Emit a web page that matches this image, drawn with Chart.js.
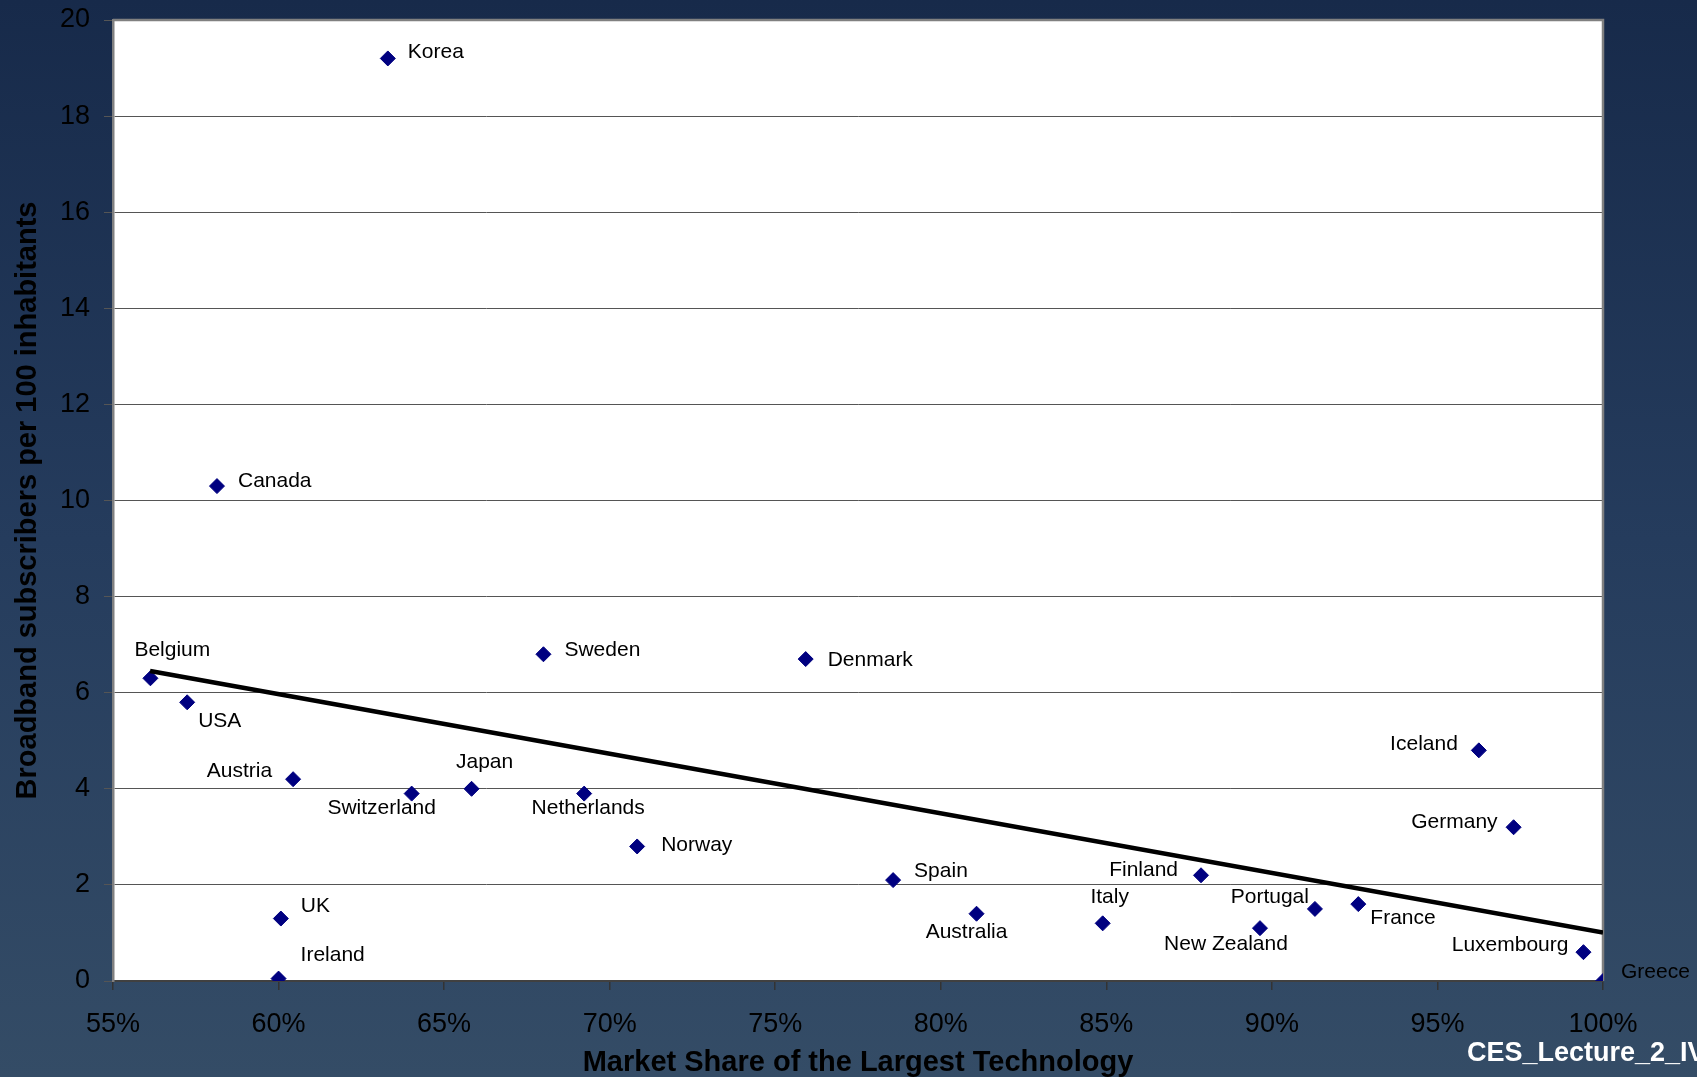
<!DOCTYPE html>
<html>
<head>
<meta charset="utf-8">
<title>Broadband subscribers vs. market share of the largest technology</title>
<script src="https://cdn.jsdelivr.net/npm/chart.js@4.4.1/dist/chart.umd.min.js"></script>
<style>
  html, body {
    margin: 0;
    padding: 0;
    width: 1697px;
    height: 1077px;
    overflow: hidden;
    background: linear-gradient(to bottom, #172a4a 0%, #253c5d 50%, #344c66 100%);
  }
  canvas { display: block; }
</style>
</head>
<body>
<canvas id="chart" width="1697" height="1077"></canvas>
<script>
// Countries and their values
const countries = [
  'Korea', 'Canada', 'Belgium', 'USA', 'Austria', 'Switzerland', 'Japan',
  'Netherlands', 'Sweden', 'Norway', 'Denmark', 'UK', 'Ireland', 'Spain',
  'Australia', 'Italy', 'Finland', 'New Zealand', 'Portugal', 'France',
  'Iceland', 'Germany', 'Luxembourg', 'Greece'
];
// Market share of the largest technology (%)
const marketShare = [
  63.3, 58.14, 56.13, 57.24, 60.44, 64.02, 65.83,
  69.23, 68.0, 70.83, 75.92, 60.07, 60.0, 78.56,
  81.08, 84.89, 87.86, 89.64, 91.3, 92.61,
  96.25, 97.3, 99.41, 100
];
// Broadband subscribers per 100 inhabitants
const subscribers = [
  19.2, 10.3, 6.3, 5.8, 4.2, 3.9, 4.0,
  3.9, 6.8, 2.8, 6.7, 1.3, 0.05, 2.1,
  1.4, 1.2, 2.2, 1.1, 1.5, 1.6,
  4.8, 3.2, 0.6, 0
];
// Linear trend line end points
const trendShare = [56.12, 100];
const trendSubscribers = [6.45, 1.01];

// Axis ranges and tick steps
const xRange = [55, 100];
const xStep = 5;
const yRange = [0, 20];
const yStep = 2;

const xTitle = 'Market Share of the Largest Technology';
const yTitle = 'Broadband subscribers per 100 inhabitants';
const footerText = 'CES_Lecture_2_IV';

// Where each country label sits relative to its marker (pixels)
const labelPlacement = {
  'Korea':       { align: 'left',   dx: 20,  dy: -6 },
  'Canada':      { align: 'left',   dx: 21,  dy: -5 },
  'Belgium':     { align: 'left',   dx: -16, dy: -28 },
  'USA':         { align: 'left',   dx: 11,  dy: 19 },
  'Austria':     { align: 'right',  dx: -21, dy: -8 },
  'Switzerland': { align: 'center', dx: -30, dy: 15 },
  'Japan':       { align: 'center', dx: 13,  dy: -27 },
  'Netherlands': { align: 'center', dx: 4,   dy: 15 },
  'Sweden':      { align: 'left',   dx: 21,  dy: -4 },
  'Norway':      { align: 'left',   dx: 24,  dy: -1 },
  'Denmark':     { align: 'left',   dx: 22,  dy: 1 },
  'UK':          { align: 'left',   dx: 20,  dy: -12 },
  'Ireland':     { align: 'left',   dx: 22,  dy: -23 },
  'Spain':       { align: 'left',   dx: 21,  dy: -9 },
  'Australia':   { align: 'center', dx: -10, dy: 18 },
  'Italy':       { align: 'center', dx: 7,   dy: -26 },
  'Finland':     { align: 'right',  dx: -23, dy: -5 },
  'New Zealand': { align: 'center', dx: -34, dy: 16 },
  'Portugal':    { align: 'right',  dx: -6,  dy: -12 },
  'France':      { align: 'left',   dx: 12,  dy: 14 },
  'Iceland':     { align: 'right',  dx: -21, dy: -6 },
  'Germany':     { align: 'right',  dx: -16, dy: -5 },
  'Luxembourg':  { align: 'right',  dx: -15, dy: -7 },
  'Greece':      { align: 'left',   dx: 18,  dy: -9 }
};

const FONT = '"Liberation Sans", Arial, Helvetica, sans-serif';
Chart.defaults.font.family = FONT;
Chart.defaults.color = '#000000';

const points = countries.map((c, i) => ({ x: marketShare[i], y: subscribers[i] }));
const trend = trendShare.map((x, i) => ({ x: x, y: trendSubscribers[i] }));

// White plot area with grey frame
const plotArea = {
  id: 'plotArea',
  beforeDraw(chart) {
    const { ctx, chartArea: a } = chart;
    ctx.save();
    ctx.fillStyle = '#ffffff';
    ctx.fillRect(a.left, a.top, a.right - a.left, a.bottom - a.top);
    ctx.restore();
  },
  beforeDatasetsDraw(chart) {
    const { ctx, chartArea: a } = chart;
    ctx.save();
    ctx.strokeStyle = '#808080';
    ctx.lineWidth = 2.5;
    ctx.beginPath();
    ctx.moveTo(a.left, a.top);
    ctx.lineTo(a.right, a.top);
    ctx.lineTo(a.right, a.bottom);
    ctx.stroke();
    ctx.restore();
  }
};

// Country names next to the markers, plus the footer caption
const pointLabels = {
  id: 'pointLabels',
  afterDraw(chart) {
    const { ctx } = chart;
    const meta = chart.getDatasetMeta(1);
    ctx.save();
    ctx.font = '21px ' + FONT;
    ctx.fillStyle = '#000000';
    ctx.textBaseline = 'middle';
    meta.data.forEach((el, i) => {
      const name = countries[i];
      const p = labelPlacement[name];
      ctx.textAlign = p.align;
      ctx.fillText(name, el.x + p.dx, el.y + p.dy);
    });
    ctx.font = 'bold 27px ' + FONT;
    ctx.fillStyle = '#ffffff';
    ctx.textAlign = 'left';
    ctx.fillText(footerText, 1467, 1054);
    ctx.restore();
  }
};

new Chart(document.getElementById('chart'), {
  type: 'scatter',
  data: {
    datasets: [
      {
        type: 'line',
        label: 'Trend',
        data: trend,
        borderColor: '#000000',
        borderWidth: 4.5,
        pointRadius: 0,
        fill: false,
        order: 0
      },
      {
        label: 'Countries',
        data: points,
        pointStyle: 'rectRot',
        pointRadius: 7.5,
        pointHoverRadius: 7.5,
        backgroundColor: '#000080',
        borderColor: '#000080',
        borderWidth: 1,
        order: 1
      }
    ]
  },
  options: {
    responsive: false,
    animation: false,
    events: [],
    layout: { padding: { top: 20, right: 94, bottom: 0, left: 0 } },
    plugins: {
      legend: { display: false },
      tooltip: { enabled: false }
    },
    scales: {
      x: {
        type: 'linear',
        min: xRange[0],
        max: xRange[1],
        afterFit(scale) {
          scale.height = 96;
          scale.paddingLeft = 0;
          scale.paddingRight = 0;
        },
        ticks: {
          stepSize: xStep,
          padding: 18,
          color: '#000000',
          font: { size: 27 },
          callback: (v) => v + '%'
        },
        grid: {
          drawOnChartArea: false,
          drawTicks: true,
          tickLength: 9,
          color: '#333333',
          lineWidth: 1.5
        },
        border: { display: true, color: '#404040', width: 2 },
        title: {
          display: true,
          text: xTitle,
          color: '#000000',
          font: { size: 29, weight: 'bold', lineHeight: 1.0 },
          padding: { top: 0, bottom: 0 }
        }
      },
      y: {
        min: yRange[0],
        max: yRange[1],
        afterFit(scale) {
          scale.width = 113;
          scale.paddingTop = 0;
          scale.paddingBottom = 0;
        },
        ticks: {
          stepSize: yStep,
          padding: 14,
          color: '#000000',
          font: { size: 27 }
        },
        grid: {
          drawTicks: true,
          tickLength: 9,
          color: '#555555',
          lineWidth: 1
        },
        border: { display: true, color: '#808080', width: 2.5 },
        title: {
          display: true,
          text: yTitle,
          color: '#000000',
          font: { size: 29, weight: 'bold', lineHeight: 1.1 },
          padding: { top: 12, bottom: 0 }
        }
      }
    }
  },
  plugins: [plotArea, pointLabels]
});
</script>
</body>
</html>
